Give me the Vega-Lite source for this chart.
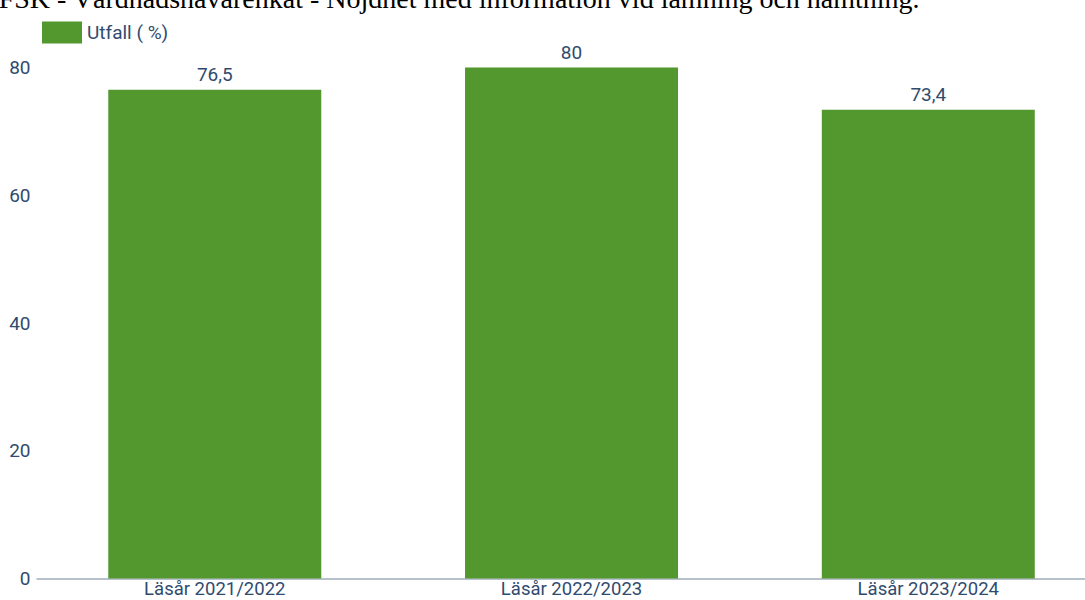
{
  "$schema": "https://vega.github.io/schema/vega-lite/v6.json",
  "autosize": {"type": "none"},
  "padding": {"left": 36, "top": 67.5, "right": 0, "bottom": 21.5},
  "width": 1049,
  "height": 511,
  "config": {
    "view": {"stroke": null},
    "locale": {"number": {"decimal": ",", "thousands": " ", "grouping": [3], "currency": ["", " kr"]}},
    "font": "Roboto"
  },
  "title": {
    "text": "FSK - Vårdnadshavarenkät - Nöjdhet med information vid lämning och hämtning.",
    "font": "Liberation Serif",
    "fontSize": 28,
    "fontWeight": "normal",
    "color": "#000000",
    "anchor": "start",
    "offset": -1,
    "dx": -10
  },
  "data": {
    "values": [
      {"period": "Läsår 2021/2022", "serie": "Utfall ( %)", "value": 76.5},
      {"period": "Läsår 2022/2023", "serie": "Utfall ( %)", "value": 80},
      {"period": "Läsår 2023/2024", "serie": "Utfall ( %)", "value": 73.4}
    ]
  },
  "encoding": {
    "x": {
      "field": "period",
      "type": "nominal",
      "sort": null,
      "scale": {"paddingInner": 0.403, "paddingOuter": 0.1717, "align": 0.59},
      "axis": {
        "title": null,
        "labelAngle": 0,
        "ticks": false,
        "domainColor": "#b7c1cb",
        "domainWidth": 2,
        "labelFont": "Roboto",
        "labelFontSize": 18.5,
        "labelColor": "#2f4b6e",
        "labelPadding": 1
      }
    },
    "y": {
      "field": "value",
      "type": "quantitative",
      "scale": {"domain": [0, 80], "nice": false},
      "axis": {
        "title": null,
        "values": [0, 20, 40, 60, 80],
        "domain": false,
        "ticks": false,
        "grid": false,
        "labelFont": "Roboto",
        "labelFontSize": 19,
        "labelColor": "#2f4b6e",
        "labelPadding": 6
      }
    }
  },
  "layer": [
    {
      "mark": {"type": "bar", "color": "#52982f"},
      "encoding": {
        "color": {
          "field": "serie",
          "type": "nominal",
          "scale": {"range": ["#52982f"]},
          "legend": {
            "title": null,
            "orient": "none",
            "legendX": 6,
            "legendY": -55,
            "padding": 0,
            "symbolType": "M-1,-0.55L1,-0.55L1,0.55L-1,0.55Z",
            "symbolSize": 1600,
            "symbolStrokeWidth": 0,
            "symbolOpacity": 1,
            "labelFont": "Roboto",
            "labelFontSize": 19,
            "labelColor": "#2f4b6e",
            "labelOffset": 5
          }
        }
      }
    },
    {
      "mark": {"type": "text", "baseline": "bottom", "dy": -5, "font": "Roboto", "fontSize": 19, "color": "#2f4b6e"},
      "encoding": {
        "text": {"field": "value", "type": "quantitative", "format": ".1~f"}
      }
    }
  ]
}
